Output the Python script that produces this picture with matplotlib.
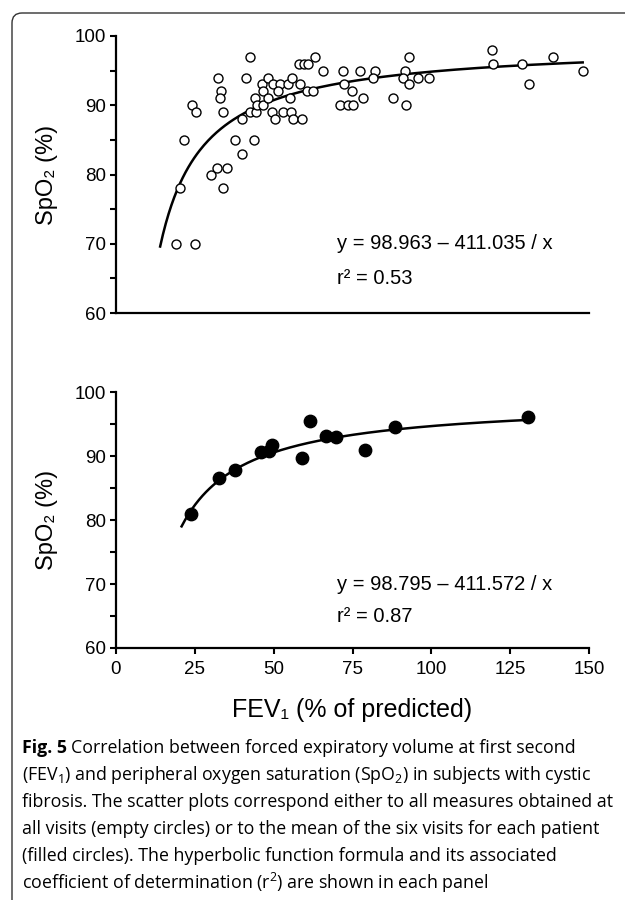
import matplotlib
matplotlib.use("Agg")
import matplotlib.pyplot as plt
from matplotlib.patches import FancyBboxPatch
from matplotlib.transforms import IdentityTransform
import numpy as np

# all visits (empty circles)
visit_fev1 = [19, 25, 20.3, 21.6, 24.1, 25.4, 30, 32.1, 35.3, 34, 32.5, 33.3, 33, 34,
              37.8, 43.8, 40, 42.5, 41.2, 40, 42.5, 44.4, 44.1, 44.8, 46.7, 46.2, 46.7,
              48.3, 48.3, 49.4, 50.4, 49.9, 52, 51.5, 54.7, 55.9, 58.4, 55.2, 53.1, 55.5,
              56.2, 58.9, 60.5, 62.4, 57.9, 59.6, 61.0, 63.1, 65.7,
              72.1, 72.2, 74.7, 71.0, 73.6, 75.3, 78.2, 77.4, 82.1, 81.6, 87.7, 92.0,
              92.8, 91.7, 91.1, 92.8, 95.9, 99.4, 119.3, 119.7, 128.9, 131.0, 138.7, 148.2]
visit_spo2 = [70, 70, 78, 85, 90, 89, 80, 81, 81, 78, 94, 92, 91, 89,
              85, 85, 83, 97, 94, 88, 89, 89, 91, 90, 90, 93, 92,
              94, 91, 89, 88, 93, 93, 92, 93, 94, 93, 91, 89, 89,
              88, 88, 92, 92, 96, 96, 96, 97, 95,
              95, 93, 92, 90, 90, 90, 91, 95, 95, 94, 91, 90,
              97, 95, 94, 93, 94, 94, 98, 96, 96, 93, 97, 95]

# mean of six visits per patient (filled circles)
mean_fev1 = [23.7, 32.8, 37.7, 46.1, 48.6, 49.5, 59.0, 61.4, 66.5, 69.9, 78.9, 88.5, 130.6]
mean_spo2 = [81.0, 86.5, 87.8, 90.6, 90.8, 91.8, 89.7, 95.5, 93.2, 93.0, 91.0, 94.5, 96.1]

# hyperbolic fits y = a - b / x
fit_top = (98.963, 411.035)
fit_bottom = (98.795, 411.572)
eq_top = ["y = 98.963 \u2013 411.035 / x", "r\u00b2 = 0.53"]
eq_bottom = ["y = 98.795 \u2013 411.572 / x", "r\u00b2 = 0.87"]

x_ticks = [0, 25, 50, 75, 100, 125, 150]
y_ticks = [60, 70, 80, 90, 100]

caption = [
    r"(FEV$_1$) and peripheral oxygen saturation (SpO$_2$) in subjects with cystic",
    "fibrosis. The scatter plots correspond either to all measures obtained at",
    "all visits (empty circles) or to the mean of the six visits for each patient",
    "(filled circles). The hyperbolic function formula and its associated",
    r"coefficient of determination (r$^2$) are shown in each panel",
]

plt.rcParams['font.family'] = ['Liberation Sans', 'DejaVu Sans']
plt.rcParams['mathtext.fontset'] = 'custom'
plt.rcParams['mathtext.rm'] = 'Open Sans'
plt.rcParams['mathtext.it'] = 'Open Sans'
plt.rcParams['mathtext.bf'] = 'Open Sans:bold'

fig = plt.figure(figsize=(6.25, 9), dpi=100)
ax1 = fig.add_axes([0.1856, 0.6522, 0.7568, 0.3078])
ax2 = fig.add_axes([0.1856, 0.28, 0.7568, 0.2844])


def style_axis(ax, show_x):
    for s in ["top", "right"]:
        ax.spines[s].set_visible(False)
    for s in ["left", "bottom"]:
        ax.spines[s].set_linewidth(1.6)
    ax.set_xlim(0, 150)
    ax.set_ylim(60, 100)
    ax.set_yticks(y_ticks)
    ax.set_yticks([65, 75, 85, 95], minor=True)
    ax.tick_params(axis="y", which="both", direction="out", length=4, width=1.5,
                   labelsize=13.5, pad=3)
    if show_x:
        ax.set_xticks(x_ticks)
        ax.tick_params(axis="x", direction="out", length=4, width=1.5,
                       labelsize=13.5, pad=5)
    else:
        ax.set_xticks([])
    ax.set_ylabel("SpO\u2082 (%)", fontsize=17, labelpad=12)


# top panel
a, b = fit_top
xs = np.linspace(14, 148, 300)
ax1.plot(xs, a - b / xs, color="black", lw=1.8, zorder=2)
ax1.scatter(visit_fev1, visit_spo2, s=42, facecolors="white", edgecolors="black",
            linewidths=1.0, zorder=3, clip_on=False)
style_axis(ax1, False)
ax1.text(70, 70, eq_top[0], fontsize=14.5, va="center")
ax1.text(70, 65, eq_top[1], fontsize=14.5, va="center")

# bottom panel
a, b = fit_bottom
xs = np.linspace(20.8, 131, 300)
ax2.plot(xs, a - b / xs, color="black", lw=1.8, zorder=2)
ax2.scatter(mean_fev1, mean_spo2, s=80, color="black", zorder=3)
style_axis(ax2, True)
ax2.set_xlabel("FEV\u2081 (% of predicted)", fontsize=18, labelpad=15)
ax2.text(70, 70, eq_bottom[0], fontsize=14.5, va="center")
ax2.text(70, 65, eq_bottom[1], fontsize=14.5, va="center")

# caption
cap_font = ['Open Sans', 'DejaVu Sans']
cap_size = 12.8
y0 = 748
step = 27.0
t = fig.text(22 / 625, 1 - y0 / 900, "Fig. 5", fontsize=cap_size, family=cap_font,
             fontweight="bold", va="center")
fig.canvas.draw()
bb = t.get_window_extent()
fig.text((bb.x1 + 4) / 625, 1 - y0 / 900,
         "Correlation between forced expiratory volume at first second",
         fontsize=cap_size, family=cap_font, va="center")
for i, line in enumerate(caption):
    fig.text(22 / 625, 1 - (y0 + step * (i + 1)) / 900, line, fontsize=cap_size,
             family=cap_font, va="center")

# figure frame (left + top with rounded corner)
frame = FancyBboxPatch((12, -30), 800, 900 - 13 + 30,
                       boxstyle="round,pad=0,rounding_size=10",
                       transform=IdentityTransform(), fill=False,
                       edgecolor="#333333", linewidth=1.0)
fig.patches.append(frame)

fig.savefig("out.png", dpi=100)
